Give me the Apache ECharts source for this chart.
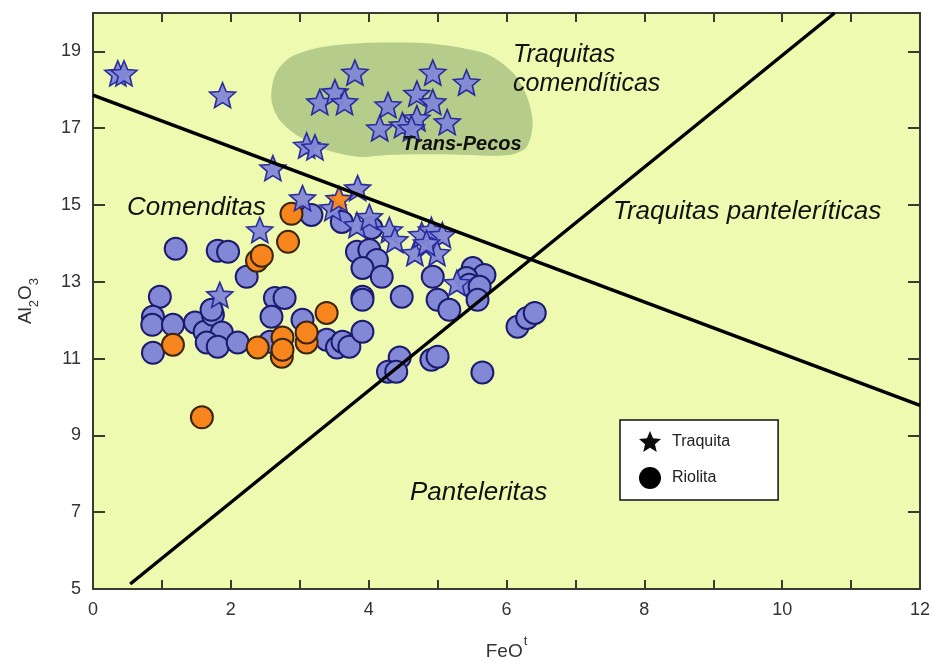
<!DOCTYPE html>
<html>
<head>
<meta charset="utf-8">
<script src="https://cdn.jsdelivr.net/npm/echarts@6/dist/echarts.min.js"></script>
<style>
  html, body { margin: 0; padding: 0; background: #ffffff; }
  #chart { width: 934px; height: 666px; }
</style>
</head>
<body>
<div id="chart"></div>
<script>
// FeO(t) vs Al2O3 classification of peralkaline rocks (Macdonald diagram)

// Tick values
const xTicks = [0, 1, 2, 3, 4, 5, 6, 7, 8, 9, 10, 11, 12];
const xLabels = [0, 2, 4, 6, 8, 10, 12];
const yTicks = [5, 7, 9, 11, 13, 15, 17, 19];

// Traquita samples [FeO(t), Al2O3]
const traquita = [
  [0.36, 18.43], [0.45, 18.43], [1.88, 17.86], [2.61, 15.96], [3.10, 16.55], [3.22, 16.50],
  [2.42, 14.35], [1.84, 12.66], [3.04, 15.18], [3.84, 15.44], [3.48, 14.92], [3.83, 14.48],
  [4.01, 14.69], [4.30, 14.35], [4.38, 14.09], [4.67, 13.75], [4.77, 14.22], [4.91, 14.35],
  [5.07, 14.22], [4.99, 13.75], [4.84, 14.01], [5.28, 12.97],
  [3.80, 18.45], [3.29, 17.68], [3.51, 17.94], [3.65, 17.68], [4.93, 18.45], [5.42, 18.19],
  [4.70, 17.90], [4.93, 17.68], [4.28, 17.60], [5.14, 17.16], [4.16, 17.00], [4.49, 17.08],
  [4.70, 17.26], [4.62, 17.00]
];
const traquitaOrange = [[3.57, 15.16]];

// Riolita samples [FeO(t), Al2O3]
const riolita = [
  [1.20, 13.86], [1.81, 13.81], [1.96, 13.78], [2.23, 13.13],
  [0.97, 12.61], [2.64, 12.58], [2.78, 12.58], [2.59, 12.09],
  [0.87, 12.09], [0.86, 11.88], [1.16, 11.88], [0.87, 11.15],
  [1.48, 11.94], [1.62, 11.70], [1.74, 12.14], [1.72, 12.27], [1.87, 11.68], [1.65, 11.42],
  [1.81, 11.31], [2.10, 11.42], [2.57, 11.44],
  [3.04, 12.01], [3.39, 11.49], [3.54, 11.29], [3.62, 11.44], [3.72, 11.31], [3.91, 11.70],
  [3.17, 14.74], [3.61, 14.56], [4.04, 14.40],
  [3.83, 13.78], [4.01, 13.83], [4.12, 13.57], [3.91, 13.36], [4.19, 13.13], [3.91, 12.61],
  [3.91, 12.53], [4.48, 12.61],
  [4.93, 13.13], [5.00, 12.53], [5.17, 12.27],
  [5.51, 13.36], [5.68, 13.18], [5.42, 13.10], [5.46, 12.92], [5.61, 12.87], [5.58, 12.53],
  [4.45, 11.03], [4.28, 10.66], [4.40, 10.66], [4.91, 10.97], [5.00, 11.05], [5.65, 10.64],
  [6.16, 11.83], [6.30, 12.06], [6.41, 12.19]
];
const riolitaOrange = [
  [2.88, 14.77], [2.83, 14.04], [2.38, 13.55], [2.45, 13.68], [1.16, 11.36], [2.39, 11.29],
  [2.75, 11.55], [2.74, 11.05], [2.75, 11.23], [3.10, 11.42], [3.10, 11.68], [3.39, 12.19],
  [1.58, 9.47]
];

// Field boundaries
const comenditeLine = [[0, 17.86], [12, 9.78]];
const pantelleriteLine = [[0.54, 5.13], [10.76, 20]];

// Trans-Pecos field outline
const transPecos = [
  [3.87, 19.21], [4.35, 19.23], [4.84, 19.21], [5.32, 19.10], [5.75, 18.90], [6.09, 18.45],
  [6.29, 17.86], [6.38, 17.13], [6.29, 16.51], [6.04, 16.30], [5.46, 16.30], [4.88, 16.32],
  [4.26, 16.30], [3.87, 16.25], [3.39, 16.43], [3.00, 16.77], [2.71, 17.21], [2.59, 17.73],
  [2.64, 18.38], [2.86, 18.84], [3.29, 19.10]
];

const starPath = 'path://M10,0 L12.65,6.36 L19.51,6.91 L14.28,11.39 L15.88,18.09 L10,14.5 L4.12,18.09 L5.72,11.39 L0.49,6.91 L7.35,6.36 Z';
const FONT = '"Liberation Sans", Arial, sans-serif';
const axisColor = '#3a3a2e';
const purple = '#8287d6';
const orange = '#f7851e';

const chart = echarts.init(document.getElementById('chart'), null, { renderer: 'canvas' });

const axisLine = { show: true, onZero: false, lineStyle: { color: axisColor, width: 2 } };

chart.setOption({
  animation: false,
  backgroundColor: '#ffffff',
  grid: {
    left: 93, right: 14, top: 13, bottom: 76,
    show: true, backgroundColor: '#eefab0', borderWidth: 0
  },
  xAxis: [
    {
      type: 'value', min: 0, max: 12, interval: 1, position: 'bottom',
      axisLine: axisLine,
      axisTick: { inside: true, length: 9, customValues: xTicks, lineStyle: { color: axisColor, width: 2 } },
      axisLabel: { customValues: xLabels, fontSize: 18, color: '#333', margin: 12, fontFamily: FONT },
      splitLine: { show: false },
      name: '{b|FeO}{s|t}',
      nameLocation: 'middle', nameGap: 46,
      nameTextStyle: {
        rich: {
          b: { fontSize: 19, color: '#333', fontFamily: FONT, verticalAlign: 'bottom' },
          s: { fontSize: 13, color: '#333', fontFamily: FONT, verticalAlign: 'bottom', padding: [0, 0, 13, 1] }
        }
      }
    },
    {
      type: 'value', min: 0, max: 12, interval: 1, position: 'top',
      axisLine: axisLine,
      axisTick: { inside: true, length: 9, customValues: xTicks, lineStyle: { color: axisColor, width: 2 } },
      axisLabel: { show: false },
      splitLine: { show: false }
    }
  ],
  yAxis: [
    {
      type: 'value', min: 5, max: 20, interval: 1, position: 'left',
      axisLine: axisLine,
      axisTick: { inside: true, length: 12, customValues: yTicks, lineStyle: { color: axisColor, width: 2 } },
      axisLabel: { customValues: yTicks, fontSize: 18, color: '#333', margin: 12, fontFamily: FONT },
      splitLine: { show: false },
      name: '{a|Al}{s|2}{a|O}{s|3}',
      nameLocation: 'middle', nameGap: 52,
      nameTextStyle: {
        rich: {
          a: { fontSize: 19, color: '#333', fontFamily: FONT, verticalAlign: 'bottom', padding: [0, 0, 6, 0] },
          s: { fontSize: 13, color: '#333', fontFamily: FONT, verticalAlign: 'bottom' }
        }
      }
    },
    {
      type: 'value', min: 5, max: 20, interval: 1, position: 'right',
      axisLine: axisLine,
      axisTick: { inside: true, length: 12, customValues: yTicks, lineStyle: { color: axisColor, width: 2 } },
      axisLabel: { show: false },
      splitLine: { show: false }
    }
  ],
  legend: {
    orient: 'vertical', left: 620, top: 420,
    padding: [11, 48, 11, 19],
    itemWidth: 22, itemHeight: 22, itemGap: 15,
    backgroundColor: '#ffffff', borderColor: '#111', borderWidth: 1.5,
    selectedMode: false,
    textStyle: { fontSize: 16, color: '#222', fontFamily: FONT, padding: [0, 0, 0, 6] },
    data: [
      { name: 'Traquita', icon: starPath, itemStyle: { color: '#000', borderWidth: 0 } },
      { name: 'Riolita', icon: 'circle', itemStyle: { color: '#000', borderWidth: 0 } }
    ]
  },
  graphic: [
    { type: 'text', left: 513, top: 43, z: 10, style: { text: 'Traquitas', font: 'italic 25px ' + FONT, fill: '#111' } },
    { type: 'text', left: 513, top: 72, z: 10, style: { text: 'comendíticas', font: 'italic 25px ' + FONT, fill: '#111' } },
    { type: 'text', left: 402, top: 134, z: 10, style: { text: 'Trans-Pecos', font: 'italic bold 20px ' + FONT, fill: '#111' } },
    { type: 'text', left: 127, top: 195, z: 10, style: { text: 'Comenditas', font: 'italic 26px ' + FONT, fill: '#111' } },
    { type: 'text', left: 613, top: 199, z: 10, style: { text: 'Traquitas panteleríticas', font: 'italic 26px ' + FONT, fill: '#111' } },
    { type: 'text', left: 410, top: 480, z: 10, style: { text: 'Panteleritas', font: 'italic 26px ' + FONT, fill: '#111' } }
  ],
  series: [
    {
      name: 'Trans-Pecos',
      type: 'custom',
      z: 1,
      silent: true,
      data: [0],
      renderItem: function (params, api) {
        const pts = transPecos.map(function (p) { return api.coord(p); });
        return {
          type: 'polygon',
          shape: { points: pts, smooth: 0.3 },
          style: { fill: '#b5cc8b' }
        };
      }
    },
    {
      name: 'Riolita', type: 'scatter', z: 3,
      symbol: 'circle', symbolSize: 22,
      itemStyle: { color: purple, borderColor: '#1b1b6e', borderWidth: 2, opacity: 1 },
      data: riolita
    },
    {
      name: 'Riolita', type: 'scatter', z: 3,
      symbol: 'circle', symbolSize: 22,
      itemStyle: { color: orange, borderColor: '#3b2410', borderWidth: 2, opacity: 1 },
      data: riolitaOrange
    },
    {
      name: 'Traquita', type: 'scatter', z: 4,
      symbol: starPath, symbolSize: [26, 25],
      itemStyle: { color: purple, borderColor: '#22269a', borderWidth: 1.6, opacity: 0.95 },
      data: traquita
    },
    {
      name: 'Traquita', type: 'scatter', z: 4,
      symbol: starPath, symbolSize: [26, 25],
      itemStyle: { color: orange, borderColor: '#22269a', borderWidth: 1.6, opacity: 0.95 },
      data: traquitaOrange
    },
    {
      name: 'limite1', type: 'line', z: 5, silent: true,
      symbol: 'none',
      lineStyle: { color: '#000', width: 3.5 },
      data: comenditeLine
    },
    {
      name: 'limite2', type: 'line', z: 5, silent: true,
      symbol: 'none',
      lineStyle: { color: '#000', width: 3.5 },
      data: pantelleriteLine
    }
  ]
});
</script>
</body>
</html>
